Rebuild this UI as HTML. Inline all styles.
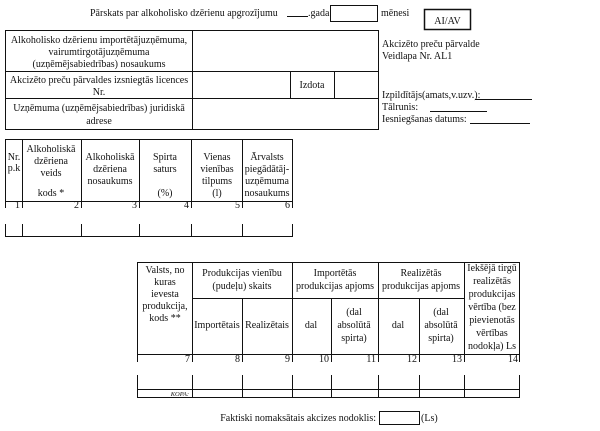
<!DOCTYPE html>
<html><head><meta charset="utf-8"><style>
body{margin:0;background:#fff;width:600px;height:426px;overflow:hidden}
svg text{font-family:"Liberation Serif",serif;font-size:10px;fill:#111}
</style></head><body>
<svg width="600" height="426" viewBox="0 0 600 426" xmlns="http://www.w3.org/2000/svg">
<g stroke="#111" stroke-width="1" fill="none">
<rect x="330.5" y="5.5" width="47" height="16"/>
<rect x="424.5" y="9.5" width="46" height="20" stroke-width="1.5"/>
<line x1="287" y1="16.5" x2="308" y2="16.5"/>
<rect x="5.5" y="30.5" width="373" height="99"/>
<line x1="5" y1="71.5" x2="378" y2="71.5"/>
<line x1="5" y1="98.5" x2="378" y2="98.5"/>
<line x1="192.5" y1="30" x2="192.5" y2="130"/>
<line x1="290.5" y1="71" x2="290.5" y2="98"/>
<line x1="334.5" y1="71" x2="334.5" y2="98"/>
<line x1="475" y1="99.5" x2="532" y2="99.5"/>
<line x1="430" y1="111.5" x2="487" y2="111.5"/>
<line x1="470" y1="123.5" x2="530" y2="123.5"/>
<line x1="5" y1="139.5" x2="292" y2="139.5"/>
<line x1="5" y1="201.5" x2="292" y2="201.5"/>
<line x1="5" y1="236.5" x2="292" y2="236.5"/>
<g>
<line x1="5.5" y1="139" x2="5.5" y2="208"/><line x1="5.5" y1="224" x2="5.5" y2="237"/>
<line x1="22.5" y1="139" x2="22.5" y2="208"/><line x1="22.5" y1="224" x2="22.5" y2="237"/>
<line x1="81.5" y1="139" x2="81.5" y2="208"/><line x1="81.5" y1="224" x2="81.5" y2="237"/>
<line x1="139.5" y1="139" x2="139.5" y2="208"/><line x1="139.5" y1="224" x2="139.5" y2="237"/>
<line x1="191.5" y1="139" x2="191.5" y2="208"/><line x1="191.5" y1="224" x2="191.5" y2="237"/>
<line x1="242.5" y1="139" x2="242.5" y2="208"/><line x1="242.5" y1="224" x2="242.5" y2="237"/>
<line x1="292.5" y1="139" x2="292.5" y2="208"/><line x1="292.5" y1="224" x2="292.5" y2="237"/>
</g>
<line x1="137" y1="262.5" x2="520" y2="262.5"/>
<line x1="192" y1="298.5" x2="464" y2="298.5"/>
<line x1="137" y1="354.5" x2="520" y2="354.5"/>
<line x1="137" y1="389.5" x2="520" y2="389.5"/>
<line x1="137" y1="397.5" x2="520" y2="397.5"/>
<g>
<line x1="137.5" y1="262" x2="137.5" y2="362"/><line x1="137.5" y1="375" x2="137.5" y2="398"/>
<line x1="192.5" y1="262" x2="192.5" y2="362"/><line x1="192.5" y1="375" x2="192.5" y2="398"/>
<line x1="242.5" y1="298" x2="242.5" y2="362"/><line x1="242.5" y1="375" x2="242.5" y2="398"/>
<line x1="292.5" y1="262" x2="292.5" y2="362"/><line x1="292.5" y1="375" x2="292.5" y2="398"/>
<line x1="331.5" y1="298" x2="331.5" y2="362"/><line x1="331.5" y1="375" x2="331.5" y2="398"/>
<line x1="378.5" y1="262" x2="378.5" y2="362"/><line x1="378.5" y1="375" x2="378.5" y2="398"/>
<line x1="419.5" y1="298" x2="419.5" y2="362"/><line x1="419.5" y1="375" x2="419.5" y2="398"/>
<line x1="464.5" y1="262" x2="464.5" y2="362"/><line x1="464.5" y1="375" x2="464.5" y2="398"/>
<line x1="519.5" y1="262" x2="519.5" y2="362"/><line x1="519.5" y1="375" x2="519.5" y2="398"/>
</g>
<rect x="379.5" y="411.5" width="40" height="13"/>
</g>

<text x="90" y="16">Pārskats par alkoholisko dzērienu apgrozījumu</text>
<text x="308" y="16">.gada</text>
<text x="381" y="16">mēnesi</text>
<text x="447.5" y="24" text-anchor="middle">AI/AV</text>

<g text-anchor="middle">
<text x="99" y="43">Alkoholisko dzērienu importētājuzņēmuma,</text>
<text x="99" y="55">vairumtirgotājuzņēmuma</text>
<text x="99" y="67">(uzņēmējsabiedrības) nosaukums</text>
<text x="99" y="83">Akcizēto preču pārvaldes izsniegtās licences</text>
<text x="99" y="95">Nr.</text>
<text x="312" y="88">Izdota</text>
<text x="99" y="111">Uzņēmuma (uzņēmējsabiedrības) juridiskā</text>
<text x="99" y="124">adrese</text>
</g>
<text x="382" y="47">Akcizēto preču pārvalde</text>
<text x="382" y="59">Veidlapa Nr. AL1</text>
<text x="382" y="98">Izpildītājs(amats,v.uzv.):</text>
<text x="382" y="110">Tālrunis:</text>
<text x="382" y="122">Iesniegšanas datums:</text>

<g text-anchor="middle">
<text x="14" y="160">Nr.</text><text x="14" y="171">p.k</text>
<text x="51" y="152">Alkoholiskā</text><text x="51" y="164">dzēriena</text><text x="51" y="176">veids</text><text x="51" y="196">kods *</text>
<text x="110" y="160">Alkoholiskā</text><text x="110" y="172">dzēriena</text><text x="110" y="184">nosaukums</text>
<text x="165" y="160">Spirta</text><text x="165" y="172">saturs</text><text x="165" y="196">(%)</text>
<text x="217" y="160">Vienas</text><text x="217" y="172">vienības</text><text x="217" y="184">tilpums</text><text x="217" y="196">(l)</text>
<text x="267" y="160">Ārvalsts</text><text x="267" y="172">piegādātāj-</text><text x="267" y="184">uzņēmuma</text><text x="267" y="196">nosaukums</text>
</g>
<g text-anchor="end">
<text x="20" y="208">1</text><text x="79" y="208">2</text><text x="137" y="208">3</text><text x="189" y="208">4</text><text x="240" y="208">5</text><text x="290" y="208">6</text>
</g>

<g text-anchor="middle">
<text x="165" y="273">Valsts, no</text><text x="165" y="285">kuras</text><text x="165" y="297">ievesta</text><text x="165" y="309">produkcija,</text><text x="165" y="321">kods **</text>
<text x="242" y="276">Produkcijas vienību</text><text x="242" y="289">(pudeļu) skaits</text>
<text x="335" y="276">Importētās</text><text x="335" y="289">produkcijas apjoms</text>
<text x="421" y="276">Realizētās</text><text x="421" y="289">produkcijas apjoms</text>
<text x="492" y="271">Iekšējā tirgū</text><text x="492" y="284">realizētās</text><text x="492" y="297">produkcijas</text><text x="492" y="310">vērtība (bez</text><text x="492" y="323">pievienotās</text><text x="492" y="336">vērtības</text><text x="492" y="349">nodokļa) Ls</text>
<text x="217" y="328">Importētais</text><text x="267" y="328">Realizētais</text>
<text x="311" y="328">dal</text><text x="354" y="315">(dal</text><text x="354" y="328">absolūtā</text><text x="354" y="341">spirta)</text>
<text x="398" y="328">dal</text><text x="441" y="315">(dal</text><text x="441" y="328">absolūtā</text><text x="441" y="341">spirta)</text>
</g>
<g text-anchor="end">
<text x="190" y="362">7</text><text x="240" y="362">8</text><text x="290" y="362">9</text><text x="329" y="362">10</text><text x="376" y="362">11</text><text x="417" y="362">12</text><text x="462" y="362">13</text><text x="518" y="362">14</text>
<text x="189" y="396" style="font-size:6.5px;font-style:italic">KOPA:</text>
</g>
<text x="376" y="421" text-anchor="end">Faktiski nomaksātais akcizes nodoklis:</text>
<text x="421" y="421">(Ls)</text>
</svg>
</body></html>
